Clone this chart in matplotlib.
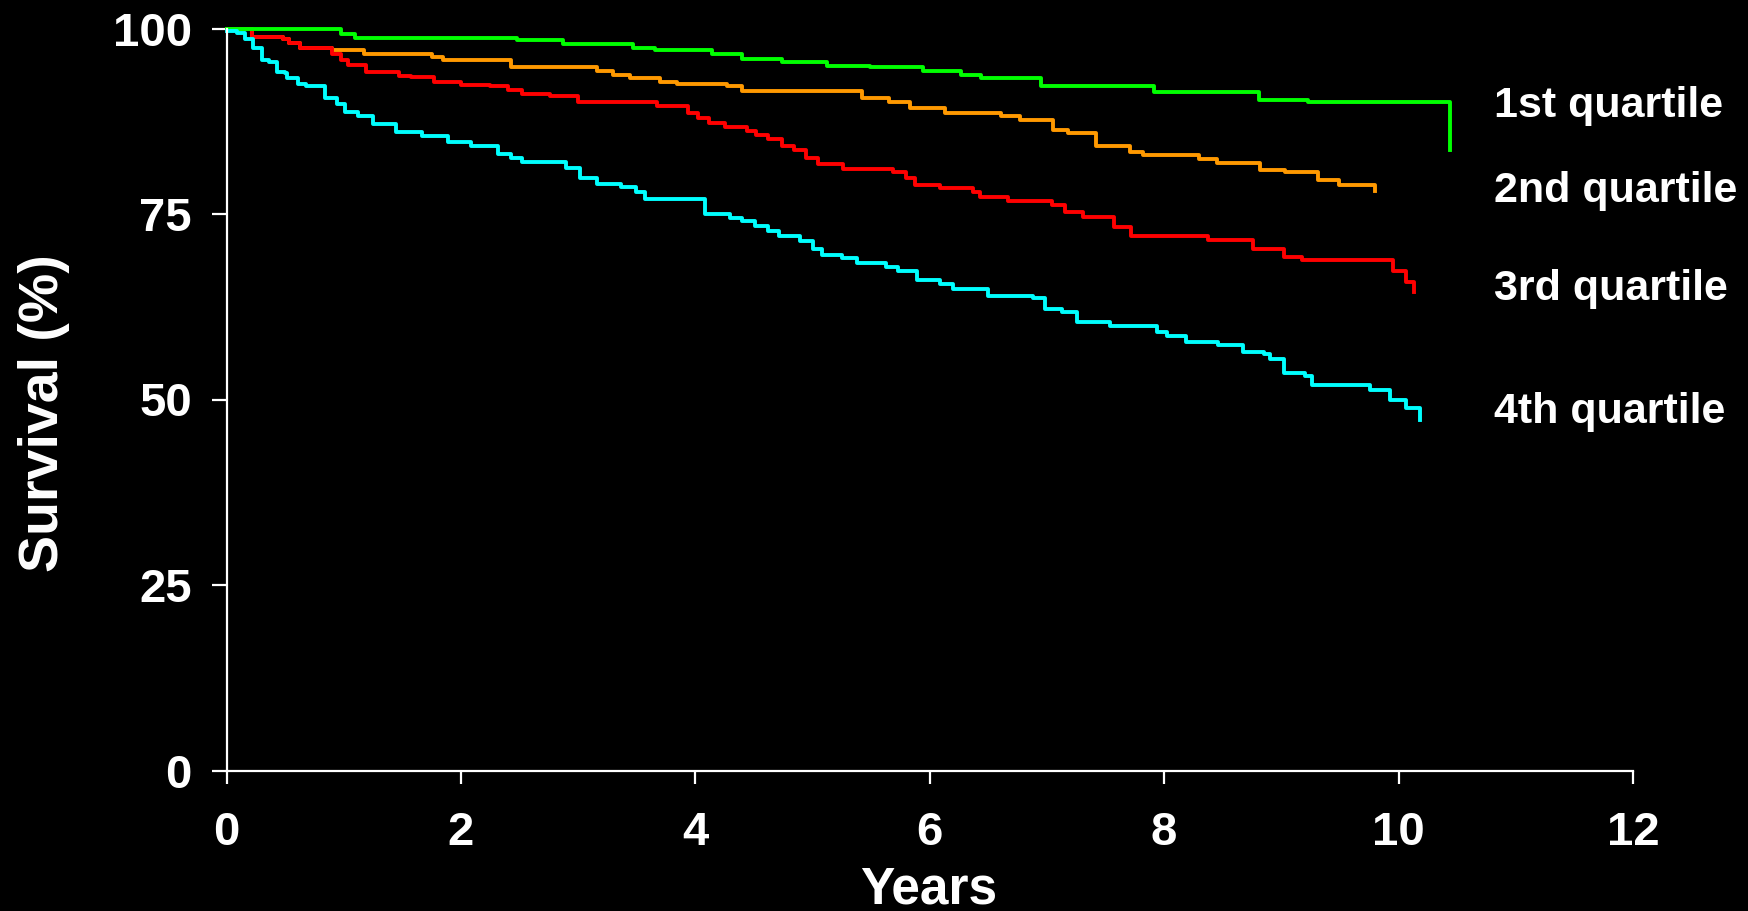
import matplotlib
matplotlib.use("Agg")
import matplotlib.pyplot as plt

# Kaplan-Meier style survival by quartile (years, %)
q1_years = [0, 0.98, 1.10, 2.48, 2.87, 3.47, 3.66, 4.14, 4.40, 4.74, 5.12, 5.49,
            5.94, 6.27, 6.44, 6.95, 7.91, 8.81, 9.23, 10.44]
q1_surv = [100, 99.3, 98.7, 98.4, 97.9, 97.35, 97.1, 96.5, 95.9, 95.5, 95.0, 94.75,
           94.3, 93.75, 93.3, 92.2, 91.5, 90.4, 90.1, 83.6]

q2_years = [0, 0.22, 0.48, 0.53, 0.63, 0.90, 1.17, 1.75, 1.85, 2.43, 3.16, 3.30, 3.44,
            3.70, 3.84, 4.27, 4.40, 5.42, 5.65, 5.83, 6.13, 6.61, 6.77, 7.05, 7.18,
            7.42, 7.71, 7.82, 8.30, 8.45, 8.82, 9.03, 9.31, 9.49, 9.80]
q2_surv = [100, 98.9, 98.6, 98.0, 97.4, 97.1, 96.5, 96.1, 95.7, 94.75, 94.3, 93.75, 93.3,
           92.85, 92.5, 92.2, 91.6, 90.7, 90.15, 89.25, 88.6, 88.15, 87.7, 86.35, 85.9,
           84.1, 83.3, 82.9, 82.4, 81.85, 80.95, 80.6, 79.6, 78.9, 78.1]

q3_years = [0, 0.22, 0.48, 0.53, 0.63, 0.90, 0.98, 1.04, 1.19, 1.47, 1.57, 1.77,
            2.00, 2.25, 2.40, 2.52, 2.76, 3.00, 3.67, 3.94, 4.02, 4.12, 4.25, 4.44,
            4.52, 4.62, 4.74, 4.84, 4.94, 5.05, 5.26, 5.69, 5.80, 5.87, 6.09, 6.37,
            6.43, 6.67, 7.04, 7.15, 7.31, 7.57, 7.72, 8.37, 8.76, 9.02, 9.18, 9.95,
            10.06, 10.13]
q3_surv = [100, 98.9, 98.6, 98.0, 97.4, 96.5, 95.8, 95.1, 94.2, 93.6, 93.45, 92.8,
           92.4, 92.2, 91.7, 91.2, 90.9, 90.1, 89.5, 88.6, 87.9, 87.25, 86.7, 86.2,
           85.7, 85.1, 84.2, 83.65, 82.5, 81.7, 81.05, 80.6, 79.8, 78.9, 78.5, 78.0,
           77.35, 76.8, 76.2, 75.25, 74.65, 73.2, 72.0, 71.5, 70.3, 69.2, 68.8, 67.3,
           65.9, 64.55]

q4_years = [0, 0.09, 0.16, 0.23, 0.30, 0.36, 0.43, 0.50, 0.52, 0.61,
            0.68, 0.84, 0.94, 1.01, 1.12, 1.25, 1.45, 1.67, 1.89, 2.09,
            2.32, 2.43, 2.52, 2.90, 3.02, 3.16, 3.37, 3.49, 3.57, 4.08,
            4.30, 4.40, 4.51, 4.62, 4.71, 4.89, 5.00, 5.08, 5.25, 5.38,
            5.63, 5.73, 5.89, 6.09, 6.20, 6.50, 6.88, 6.98, 7.13, 7.26,
            7.54, 7.94, 8.02, 8.19, 8.46, 8.67, 8.85, 8.90, 9.02, 9.20,
            9.26, 9.76, 9.93, 10.06, 10.18]
q4_surv = [99.7, 99.4, 98.6, 97.35, 95.8, 95.55, 94.2, 93.95, 93.3, 92.55,
           92.2, 90.7, 89.8, 88.8, 88.2, 87.15, 86.0, 85.45, 84.7, 84.1,
           83.1, 82.5, 82.05, 81.25, 79.9, 79.0, 78.6, 78.0, 77.05, 75.0,
           74.45, 74.0, 73.4, 72.65, 72.0, 71.3, 70.3, 69.5, 69.05, 68.4,
           67.9, 67.35, 66.1, 65.5, 64.9, 64.0, 63.65, 62.2, 61.85, 60.5,
           59.9, 59.15, 58.5, 57.8, 57.4, 56.4, 56.1, 55.4, 53.6, 53.2,
           52.0, 51.3, 49.95, 48.8, 47.25]

labels = ["1st quartile", "2nd quartile", "3rd quartile", "4th quartile"]
x_ticks = [0, 2, 4, 6, 8, 10, 12]
y_ticks = [0, 25, 50, 75, 100]

plt.rcParams.update({
    "font.family": ["Liberation Sans", "DejaVu Sans"],
    "font.weight": "bold",
})

W, H = 1748, 911
fig = plt.figure(figsize=(W / 100, H / 100), dpi=100, facecolor="black")
ax = fig.add_axes([226.5 / W, 1 - 770.5 / H, (1633 - 226.5) / W, (770.5 - 28.5) / H])
ax.set_facecolor("black")

# draw order: orange under red, cyan on top
for xs, ys, col in [
    (q2_years, q2_surv, "#FF9900"),
    (q3_years, q3_surv, "#FF0000"),
    (q1_years, q1_surv, "#00FF00"),
    (q4_years, q4_surv, "#00FFFF"),
]:
    ax.plot(xs, ys, drawstyle="steps-post", color=col, lw=2.8, clip_on=False)

ax.set_xlim(0, 12)
ax.set_ylim(0, 100)
ax.set_xticks(x_ticks)
ax.set_yticks(y_ticks)
for s in ["top", "right"]:
    ax.spines[s].set_visible(False)
for s in ["left", "bottom"]:
    ax.spines[s].set_color("white")
    ax.spines[s].set_linewidth(1.6)
ax.tick_params(axis="y", colors="white", length=11, width=1.6, pad=14, labelsize=34)
ax.tick_params(axis="x", colors="white", length=9, width=1.6, pad=20, labelsize=34)
for lab in ax.get_xticklabels() + ax.get_yticklabels():
    lab.set_fontweight("bold")

fig.text(929 / W, 1 - 903 / H, "Years", color="white", fontsize=37,
         fontweight="bold", ha="center", va="baseline")
fig.text(44 / W, 1 - 413 / H, "Survival (%)", color="white", fontsize=40,
         fontweight="bold", ha="center", va="center", rotation=90)

for lab, base in zip(labels, [116.7, 201.7, 300, 423.3]):
    fig.text(1494 / W, 1 - base / H, lab, color="white", fontsize=31,
             fontweight="bold", ha="left", va="baseline")

fig.savefig("out.png", dpi=100, facecolor="black")
